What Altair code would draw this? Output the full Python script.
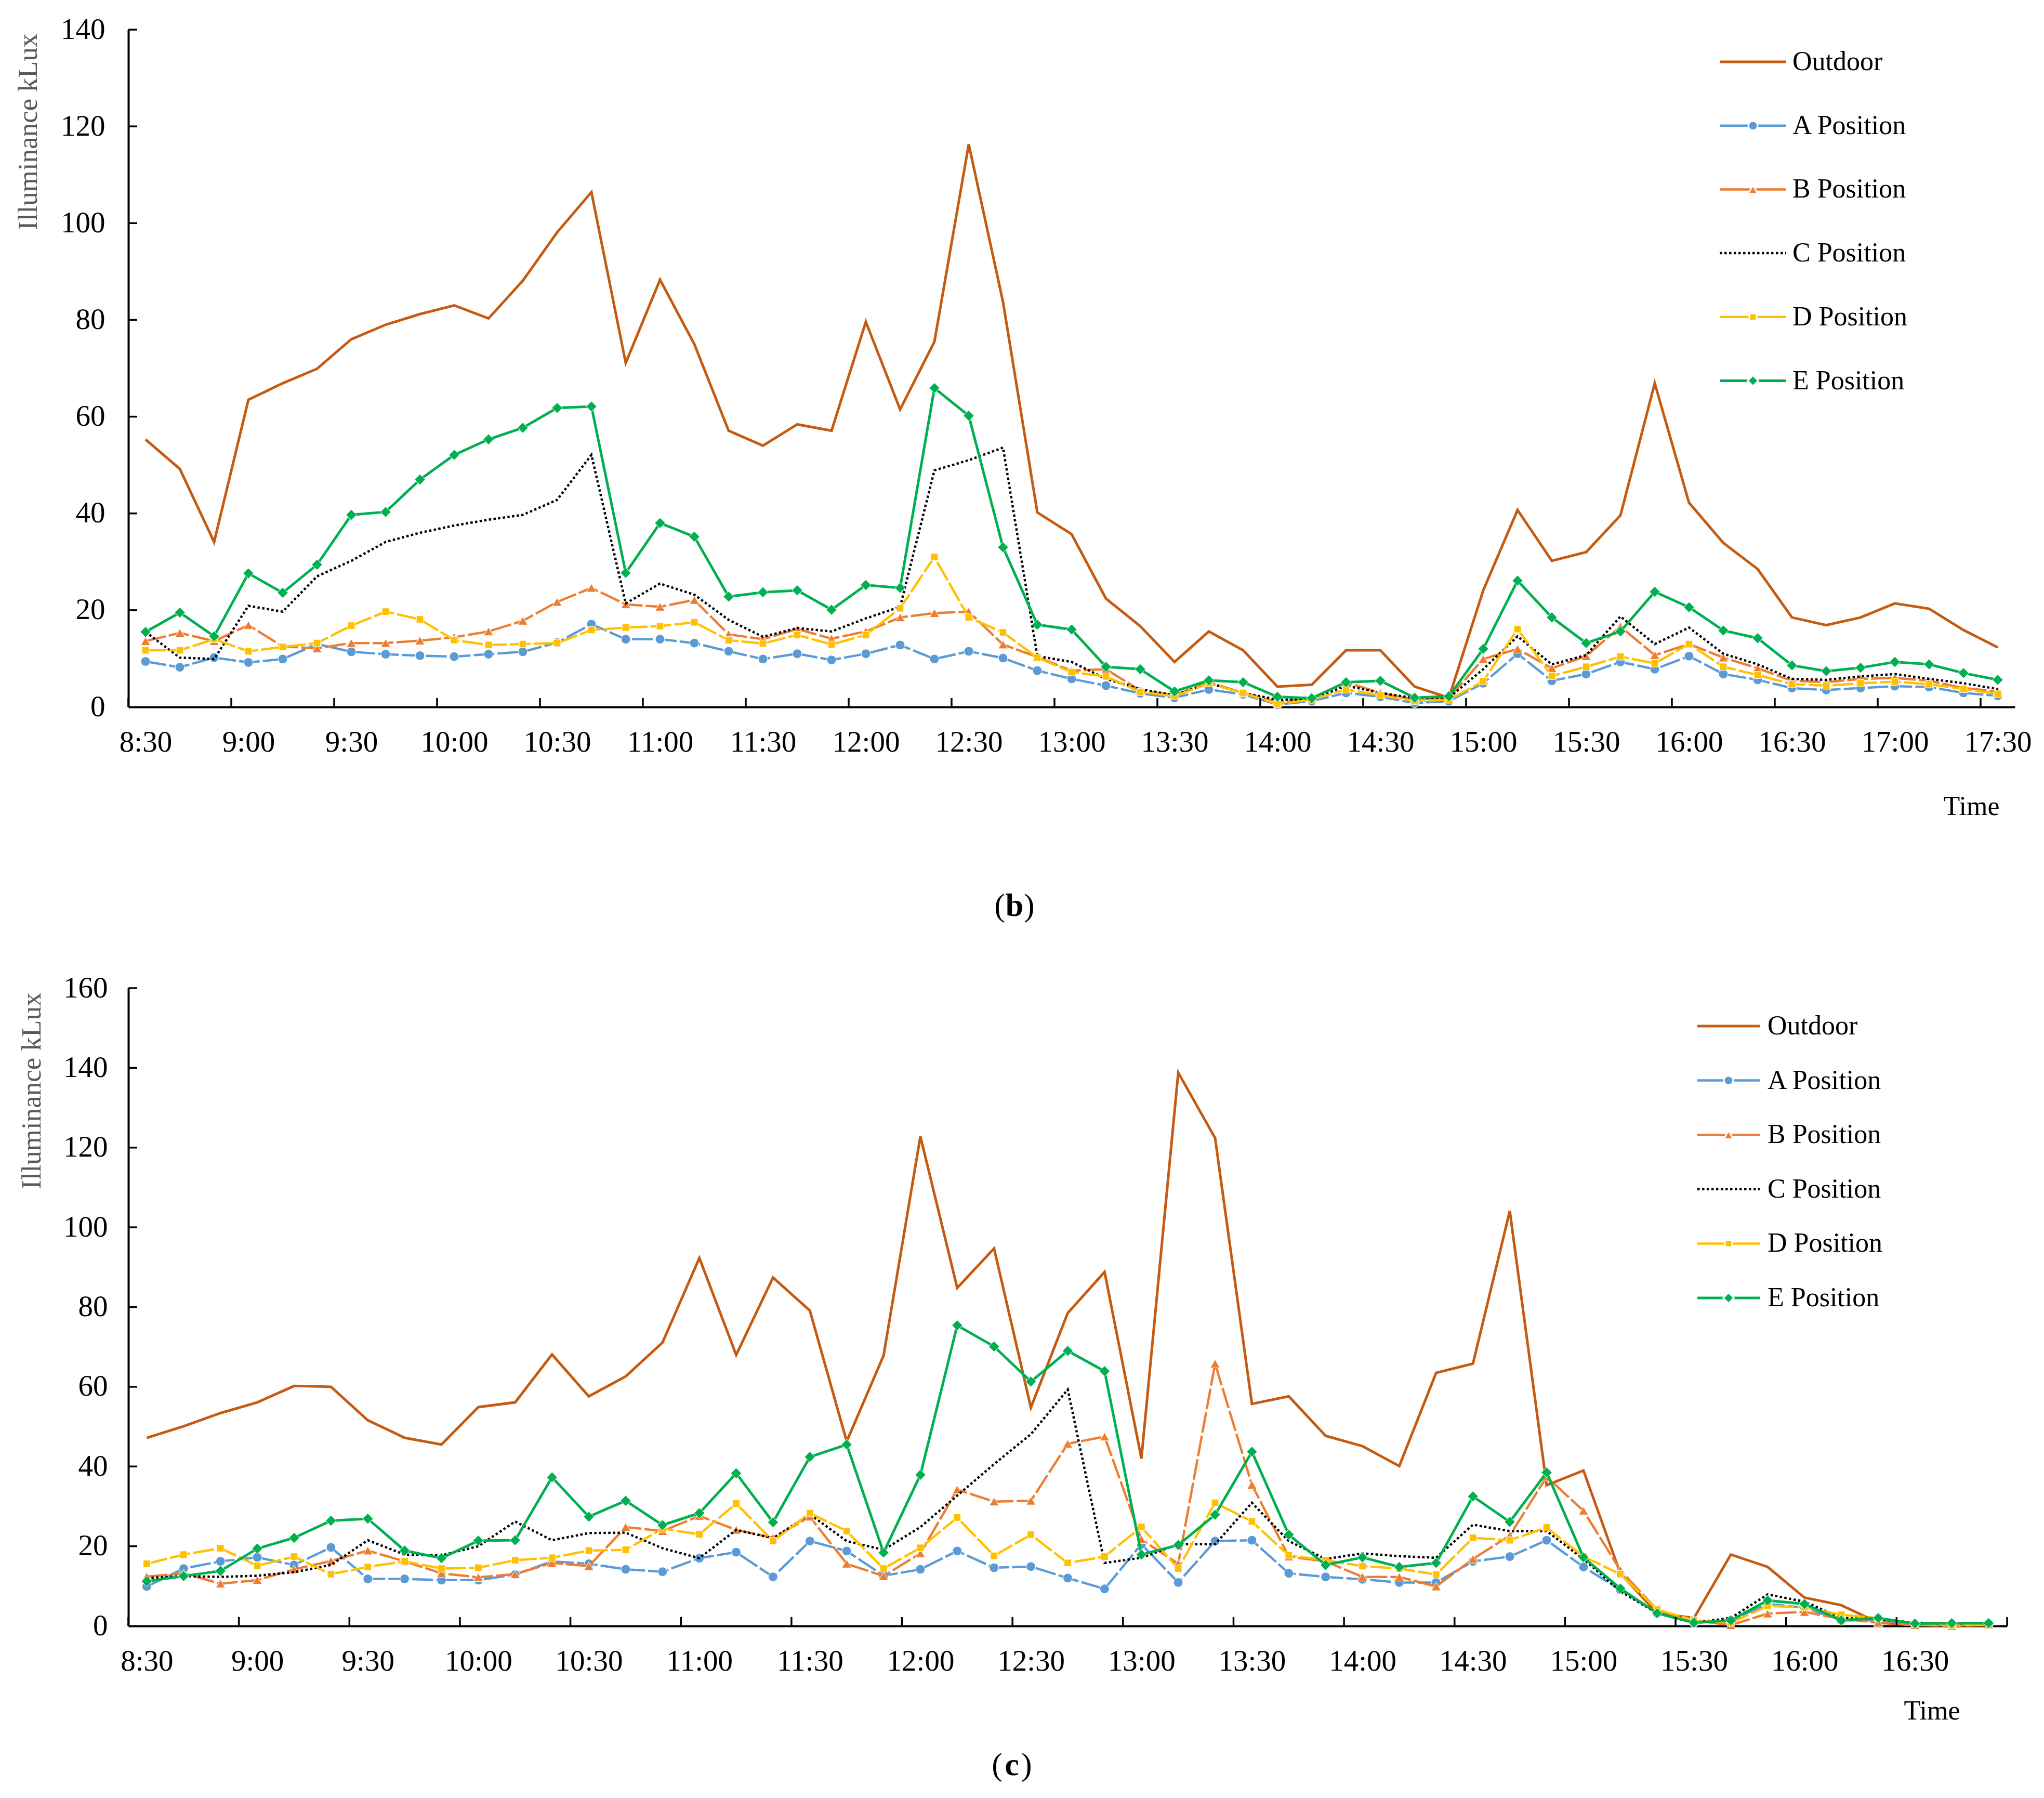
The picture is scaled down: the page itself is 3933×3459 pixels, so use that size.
import altair as alt
import pandas as pd

FONT = "Liberation Serif"

series_names = ["Outdoor", "A Position", "B Position", "C Position", "D Position", "E Position"]
series_colors = ["#C55A11", "#5B9BD5", "#ED7D31", "#000000", "#FFC000", "#00B050"]

# (b) 8:30 - 17:30, every 10 min
b_ticks = ["8:30", "9:00", "9:30", "10:00", "10:30", "11:00", "11:30", "12:00", "12:30", "13:00",
           "13:30", "14:00", "14:30", "15:00", "15:30", "16:00", "16:30", "17:00", "17:30"]
b_outdoor = [55.3, 49.2, 34.1, 63.5, 66.9, 69.9, 76.0, 79.0, 81.2, 83.0,
             80.3, 88.1, 98.1, 106.4, 71.1, 88.3, 75.0, 57.1, 54.0, 58.4,
             57.1, 79.6, 61.5, 75.5, 116.3, 83.7, 40.2, 35.7, 22.4, 16.7,
             9.3, 15.6, 11.7, 4.2, 4.6, 11.7, 11.7, 4.2, 1.9, 24.1,
             40.7, 30.2, 32.0, 39.6, 66.9, 42.2, 33.9, 28.5, 18.5, 16.9,
             18.5, 21.4, 20.3, 15.9, 12.3]
b_a = [9.4, 8.2, 10.2, 9.2, 9.9, 13.0, 11.4, 10.9, 10.6, 10.4,
       10.9, 11.4, 13.3, 17.1, 14.0, 14.0, 13.2, 11.5, 9.9, 11.0,
       9.7, 11.0, 12.8, 9.9, 11.5, 10.1, 7.5, 5.8, 4.4, 2.8,
       1.9, 3.6, 2.6, 0.5, 1.2, 2.9, 2.1, 0.8, 1.2, 4.9,
       11.0, 5.4, 6.8, 9.3, 7.8, 10.5, 6.8, 5.6, 3.9, 3.5,
       3.9, 4.3, 4.1, 2.9, 2.3]
b_b = [13.6, 15.3, 13.6, 16.9, 12.5, 12.1, 13.2, 13.2, 13.7, 14.4,
       15.6, 17.8, 21.7, 24.6, 21.2, 20.7, 22.1, 15.0, 14.0, 16.1,
       14.1, 15.6, 18.5, 19.4, 19.7, 12.9, 10.3, 7.5, 7.8, 3.4,
       2.4, 5.1, 2.9, 1.0, 1.8, 5.1, 2.9, 1.5, 1.9, 9.9,
       12.0, 8.0, 10.5, 16.6, 10.7, 13.0, 10.2, 8.0, 5.4, 5.1,
       5.8, 6.0, 5.4, 3.9, 3.2]
b_c = [15.5, 10.2, 9.9, 20.9, 19.7, 27.0, 30.2, 34.1, 36.0, 37.5,
       38.7, 39.7, 42.8, 52.1, 21.4, 25.5, 23.2, 18.0, 14.5, 16.3,
       15.6, 18.3, 20.7, 48.9, 51.0, 53.6, 10.5, 9.3, 5.8, 3.7,
       2.4, 4.9, 2.9, 1.5, 1.5, 4.4, 2.9, 1.8, 1.9, 7.8,
       14.6, 8.8, 10.7, 18.7, 13.0, 16.4, 11.0, 8.8, 5.8, 5.6,
       6.3, 6.8, 5.8, 4.9, 3.7]
b_d = [11.7, 11.7, 14.0, 11.5, 12.4, 13.2, 16.8, 19.7, 18.1, 13.8,
       12.8, 13.0, 13.2, 15.9, 16.4, 16.7, 17.5, 13.8, 13.1, 14.9,
       12.9, 14.9, 20.4, 31.0, 18.5, 15.4, 10.2, 7.2, 6.3, 3.1,
       2.2, 4.9, 2.9, 0.6, 1.5, 3.6, 2.4, 1.2, 1.5, 5.3,
       16.1, 6.4, 8.3, 10.4, 9.0, 13.0, 8.3, 6.6, 4.7, 4.4,
       4.9, 5.2, 4.7, 3.7, 2.7]
b_e = [15.5, 19.5, 14.6, 27.6, 23.6, 29.4, 39.7, 40.3, 47.0, 52.1,
       55.3, 57.7, 61.8, 62.1, 27.7, 38.0, 35.2, 22.8, 23.7, 24.1,
       20.1, 25.2, 24.6, 65.9, 60.2, 33.0, 17.0, 16.0, 8.3, 7.8,
       3.2, 5.5, 5.1, 2.1, 1.8, 5.1, 5.4, 1.9, 2.2, 12.0,
       26.1, 18.5, 13.2, 15.6, 23.8, 20.6, 15.8, 14.2, 8.6, 7.4,
       8.1, 9.3, 8.8, 7.0, 5.6]

# (c) 8:30 - 16:50, every 10 min
c_ticks = ["8:30", "9:00", "9:30", "10:00", "10:30", "11:00", "11:30", "12:00", "12:30",
           "13:00", "13:30", "14:00", "14:30", "15:00", "15:30", "16:00", "16:30"]
c_outdoor = [47.2, 50.1, 53.4, 56.1, 60.2, 60.0, 51.6, 47.2, 45.5, 54.9,
             56.1, 68.1, 57.6, 62.6, 71.1, 92.3, 68.0, 87.4, 79.1, 46.3,
             67.8, 122.8, 84.8, 94.7, 54.8, 78.5, 88.8, 42.0, 138.8, 122.4,
             55.7, 57.6, 47.7, 45.1, 40.1, 63.5, 65.8, 104.1, 35.3, 39.0,
             13.2, 3.2, 2.0, 17.9, 14.8, 7.1, 5.2, 0.8, 0.2, 0.2,
             0.2]
c_a = [9.9, 14.4, 16.2, 17.2, 15.3, 19.7, 11.8, 11.8, 11.5, 11.5,
       12.9, 16.2, 15.6, 14.2, 13.6, 17.0, 18.5, 12.3, 21.3, 18.8,
       12.6, 14.2, 18.8, 14.6, 14.9, 12.0, 9.3, 20.5, 10.9, 21.3,
       21.5, 13.2, 12.3, 11.7, 10.9, 10.9, 16.2, 17.4, 21.5, 14.8,
       9.1, 3.2, 0.8, 1.4, 5.5, 4.6, 1.4, 1.4, 0.5, 0.5,
       0.5]
c_b = [12.4, 13.2, 10.6, 11.5, 14.2, 16.3, 18.9, 16.2, 13.2, 12.2,
       13.0, 15.8, 15.0, 24.8, 23.8, 27.6, 24.1, 22.1, 27.4, 15.6,
       12.5, 18.2, 34.2, 31.2, 31.4, 45.7, 47.5, 21.7, 15.6, 65.8,
       35.4, 17.4, 16.2, 12.3, 12.3, 9.9, 16.8, 22.7, 37.4, 28.9,
       14.0, 4.0, 1.4, 0.2, 3.1, 3.5, 1.8, 0.8, 0.2, 0.0,
       0.2]
c_c = [12.0, 12.5, 12.3, 12.6, 13.5, 15.3, 21.5, 17.9, 17.7, 20.0,
       26.2, 21.5, 23.3, 23.4, 19.5, 17.0, 24.1, 22.0, 28.0, 21.3,
       19.1, 24.8, 32.7, 40.6, 48.1, 59.3, 15.8, 17.1, 20.5, 20.5,
       30.9, 21.3, 16.8, 18.2, 17.5, 17.1, 25.4, 23.8, 23.8, 16.8,
       8.7, 3.2, 0.8, 2.0, 7.9, 6.1, 2.0, 1.7, 0.8, 0.6,
       0.6]
c_d = [15.6, 17.9, 19.5, 15.1, 17.4, 13.0, 14.8, 16.2, 14.4, 14.6,
       16.5, 17.1, 18.9, 19.1, 24.4, 23.0, 30.7, 21.3, 28.3, 23.8,
       14.4, 19.6, 27.2, 17.6, 22.9, 15.8, 17.4, 24.8, 14.4, 30.9,
       26.2, 17.7, 16.5, 15.0, 14.4, 12.9, 22.1, 21.5, 24.7, 17.4,
       13.0, 4.1, 1.4, 0.8, 5.0, 4.7, 2.8, 2.0, 0.5, 0.2,
       0.2]
c_e = [11.2, 12.5, 13.8, 19.4, 22.1, 26.4, 26.9, 18.9, 17.0, 21.4,
       21.5, 37.3, 27.4, 31.4, 25.3, 28.3, 38.3, 26.0, 42.4, 45.5,
       18.4, 37.9, 75.4, 70.1, 61.3, 69.0, 63.9, 17.9, 20.3, 27.9,
       43.7, 22.9, 15.3, 17.2, 14.8, 15.8, 32.5, 26.1, 38.5, 17.2,
       9.4, 3.2, 0.8, 1.4, 6.4, 5.5, 1.4, 2.0, 0.6, 0.7,
       0.7]

# per-series drawing style: (marker shape, marker size, dash, line width)
styles = {
    "Outdoor": (None, 0, None, 5),
    "A Position": ("circle", 320, [40, 6], 4.5),
    "B Position": ("triangle-up", 340, [40, 6], 4.5),
    "C Position": (None, 0, [4.5, 4.5], 4.5),
    "D Position": ("square", 190, [40, 6], 4.5),
    "E Position": ("diamond", 420, None, 5),
}


def panel(values, ticks, ymax, w, h, legend_pos, time_pos, ytitle_pos, ylab_pad, caption):
    n = len(values[0])
    xscale = alt.Scale(domain=[-0.5, n - 0.5], nice=False, zero=False)
    yscale = alt.Scale(domain=[0, ymax], nice=False)
    label_expr = "[" + ",".join(f"'{t}'" for t in ticks) + "][round(datum.value / 3)]"

    x_axis = alt.Axis(values=list(range(0, n, 3)), labelExpr=label_expr, ticks=False, tickSize=0,
                      grid=False, domainColor="black", domainWidth=4, labelFontSize=57,
                      labelColor="black", labelPadding=68, labelBaseline="middle",
                      labelFlush=False, labelOverlap=False,
                      title="Time", titleFontSize=52, titleFontWeight="normal", titleColor="black",
                      titleX=time_pos[0], titleY=time_pos[1], titleAlign="right",
                      titleBaseline="middle")
    y_axis = alt.Axis(values=list(range(0, ymax + 1, 20)), ticks=False, tickSize=0, grid=False,
                      domainColor="black", domainWidth=4, labelFontSize=57, labelColor="black",
                      labelPadding=ylab_pad, labelFlush=False,
                      title="Illuminance kLux", titleFontSize=53, titleFontWeight="normal",
                      titleColor="#595959", titleAngle=270, titleAlign="right",
                      titleBaseline="middle", titleX=ytitle_pos[0], titleY=ytitle_pos[1])

    def xenc(field):
        return alt.X(f"{field}:Q", scale=xscale, axis=x_axis)

    def yenc(field):
        return alt.Y(f"{field}:Q", scale=yscale, axis=y_axis)

    layers = []
    for i, (name, vals) in enumerate(zip(series_names, values)):
        shape, size, dash, width = styles[name]
        df = pd.DataFrame({"slot": list(range(n)), "lux": vals})
        base = alt.Chart(df)
        line_kw = dict(color=series_colors[i], strokeWidth=width)
        if dash:
            line_kw["strokeDash"] = dash
        layers.append(base.mark_line(**line_kw).encode(x=xenc("slot"), y=yenc("lux")))
        if shape:
            layers.append(base.mark_point(shape=shape, size=size, filled=True, fill=series_colors[i],
                                          stroke="white", strokeWidth=1, opacity=1).encode(
                x=xenc("slot"), y=yenc("lux")))

    # inward tick marks: x ticks on category boundaries, y ticks at labels
    xt = pd.DataFrame({"slot": [3 * k - 0.5 for k in range(n // 3 + 1)]})
    layers.append(alt.Chart(xt).mark_rule(color="black", strokeWidth=3.5).encode(
        x=xenc("slot"), y=alt.value(h), y2=alt.value(h - 17)))
    yt = pd.DataFrame({"lux": list(range(20, ymax + 1, 20))})
    layers.append(alt.Chart(yt).mark_rule(color="black", strokeWidth=3.5).encode(
        y=yenc("lux"), x=alt.value(0), x2=alt.value(17)))

    # legend, drawn by hand
    lx0, lx1, tx, ly0, dy = legend_pos
    for i, name in enumerate(series_names):
        shape, size, dash, width = styles[name]
        ly = ly0 + i * dy
        one = alt.Chart(pd.DataFrame({"label": [name]}))
        rule_kw = dict(color=series_colors[i], strokeWidth=width)
        if name == "C Position":
            rule_kw["strokeDash"] = dash
        layers.append(one.mark_rule(**rule_kw).encode(
            x=alt.value(lx0), x2=alt.value(lx1), y=alt.value(ly)))
        if shape:
            layers.append(one.mark_point(shape=shape, size=size, filled=True, fill=series_colors[i],
                                         stroke="white", strokeWidth=3, opacity=1).encode(
                x=alt.value((lx0 + lx1) / 2), y=alt.value(ly)))
        layers.append(one.mark_text(align="left", baseline="middle", fontSize=52, font=FONT,
                                    color="black").encode(
            x=alt.value(tx), y=alt.value(ly), text="label:N"))

    # caption like "(b)" with a bold letter
    cx, cy, letter = caption
    cap = alt.Chart(pd.DataFrame({"t": [letter]}))
    layers.append(cap.mark_text(text="(", align="right", baseline="middle", fontSize=62, font=FONT,
                                color="black").encode(x=alt.value(cx - 18), y=alt.value(cy)))
    layers.append(cap.mark_text(align="center", baseline="middle", fontSize=62, font=FONT,
                                fontWeight="bold", color="black").encode(
        x=alt.value(cx), y=alt.value(cy), text="t:N"))
    layers.append(cap.mark_text(text=")", align="left", baseline="middle", fontSize=62, font=FONT,
                                color="black").encode(x=alt.value(cx + 18), y=alt.value(cy)))

    return alt.layer(*layers).properties(width=w, height=h)


top = panel([b_outdoor, b_a, b_b, b_c, b_d, b_e], b_ticks, 140, 3630, 1303,
            legend_pos=(3062, 3190, 3202, 62, 122.7), time_pos=(3600, 191),
            ytitle_pos=(-193, 7), ylab_pad=45, caption=(1705, 1686, "b"))
bottom = panel([c_outdoor, c_a, c_b, c_c, c_d, c_e], c_ticks, 160, 3615, 1227,
               legend_pos=(3019, 3139, 3154, 73, 104.6), time_pos=(3524, 163),
               ytitle_pos=(-186, 8), ylab_pad=40, caption=(1700, 1495, "c"))

chart = (
    alt.vconcat(top, bottom, spacing=541, bounds="flush")
    .properties(padding={"left": 20, "top": 20, "right": 5, "bottom": 5}, background="white")
    .configure(font=FONT)
    .configure_view(stroke=None)
)

chart.save("out.html", embed_options={"renderer": "svg", "actions": False})
